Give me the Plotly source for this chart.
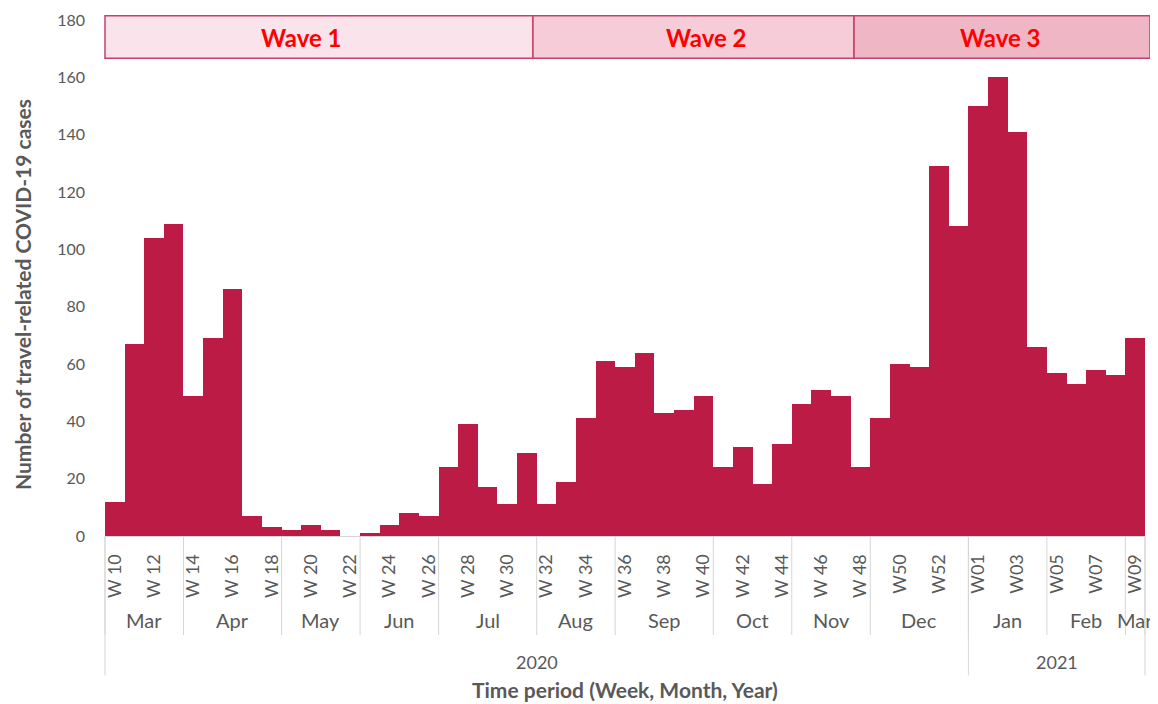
import plotly.graph_objects as go

# weekly travel-related cases, W10 2020 .. W09 2021
weeks = [f"W{n:02d}" for n in range(10, 54)] + [f"W{n:02d}" for n in range(1, 10)]
cases = [12, 67, 104, 109, 49, 69, 86, 7, 3, 2, 4, 2, 0, 1, 4, 8, 7, 24, 39, 17,
         11, 29, 11, 19, 41, 61, 59, 64, 43, 44, 49, 24, 31, 18, 32, 46, 51, 49,
         24, 41, 60, 59, 129, 108, 150, 160, 141, 66, 57, 53, 58, 56, 69]

# labels shown under every second week
week_ticks = ["W 10", "W 12", "W 14", "W 16", "W 18", "W 20", "W 22", "W 24", "W 26",
              "W 28", "W 30", "W 32", "W 34", "W 36", "W 38", "W 40", "W 42", "W 44",
              "W 46", "W 48", "W50", "W52", "W01", "W03", "W05", "W07", "W09"]

months = ["Mar", "Apr", "May", "Jun", "Jul", "Aug", "Sep", "Oct", "Nov", "Dec",
          "Jan", "Feb", "Mar"]
month_weeks = [4, 5, 4, 4, 5, 4, 5, 4, 4, 5, 4, 4, 1]

years = ["2020", "2021"]
year_weeks = [44, 9]

waves = ["Wave 1", "Wave 2", "Wave 3"]
wave_edges = [0.0, 0.4115, 0.7202, 1.0048]   # paper x of band edges
wave_text_x = [0.1885, 0.5788, 0.8615]
wave_fill = ["#FAE3EA", "#F5CCD7", "#EFB6C6"]

BAR = "#BB1B45"
GREY = "#595959"
SEP = "#D6D6D6"
FONT = "Lato, Carlito, Calibri, sans-serif"
n = len(weeks)

fig = go.Figure()
fig.add_trace(go.Bar(
    x=list(range(n)), y=cases, width=1.0,
    marker=dict(color=BAR, line=dict(width=0)),
    hovertext=weeks, hoverinfo="text+y",
))

shapes = []
annotations = []


def label(x, y, text, size, color=GREY, angle=0):
    annotations.append(dict(x=x, y=y, xref="paper", yref="paper", text=text,
                            showarrow=False, xanchor="center", yanchor="middle",
                            textangle=angle,
                            font=dict(size=size, color=color, family=FONT)))


def vline(x, y1):
    shapes.append(dict(type="line", xref="paper", yref="paper", x0=x, x1=x,
                       y0=0, y1=y1, line=dict(color=SEP, width=1)))


# month row
pos = 0
for name, w in zip(months, month_weeks):
    label((pos + w / 2) / n, -0.163, name, 20)
    vline(pos / n, -0.192)
    pos += w
vline(1, -0.192)

# year row
pos = 0
for name, w in zip(years, year_weeks):
    label((pos + w / 2) / n, -0.245, name, 18)
    vline(pos / n, -0.27)
    pos += w
vline(1, -0.27)

# wave bands on top
for i, name in enumerate(waves):
    shapes.append(dict(type="rect", xref="paper", yref="paper",
                       x0=wave_edges[i], x1=wave_edges[i + 1], y0=0.926, y1=1.008,
                       fillcolor=wave_fill[i], line=dict(color="#C4416A", width=1.5),
                       layer="below"))
    label(wave_text_x[i], 0.967, f"<b>{name}</b>", 24, color="#FF0000")

label(0.5, -0.297, "<b>Time period (Week, Month, Year)</b>", 21)
label(-0.0798, 0.467, "<b>Number of travel-related COVID-19 cases</b>", 21, angle=-90)

# page body adds an 8px margin, so the figure is 8px smaller each way
fig.update_layout(
    width=1150, height=696,
    margin=dict(l=97, r=13, t=12, b=168),
    paper_bgcolor="white", plot_bgcolor="white",
    showlegend=False, bargap=0,
    font=dict(family=FONT, color=GREY),
    shapes=shapes, annotations=annotations,
    xaxis=dict(range=[-0.5, n - 0.5], tickvals=list(range(0, n, 2)), ticktext=week_ticks,
               tickangle=-90, tickfont=dict(size=18, color=GREY), ticks="",
               ticklabelstandoff=10, automargin=False,
               showgrid=False, showline=True, linecolor=SEP, zeroline=False),
    yaxis=dict(range=[0, 180], dtick=20, showgrid=False, showline=False, zeroline=False,
               ticks="", tickfont=dict(size=16, color=GREY), ticklabelstandoff=19,
               automargin=False),
)

fig.write_html("out.html")
